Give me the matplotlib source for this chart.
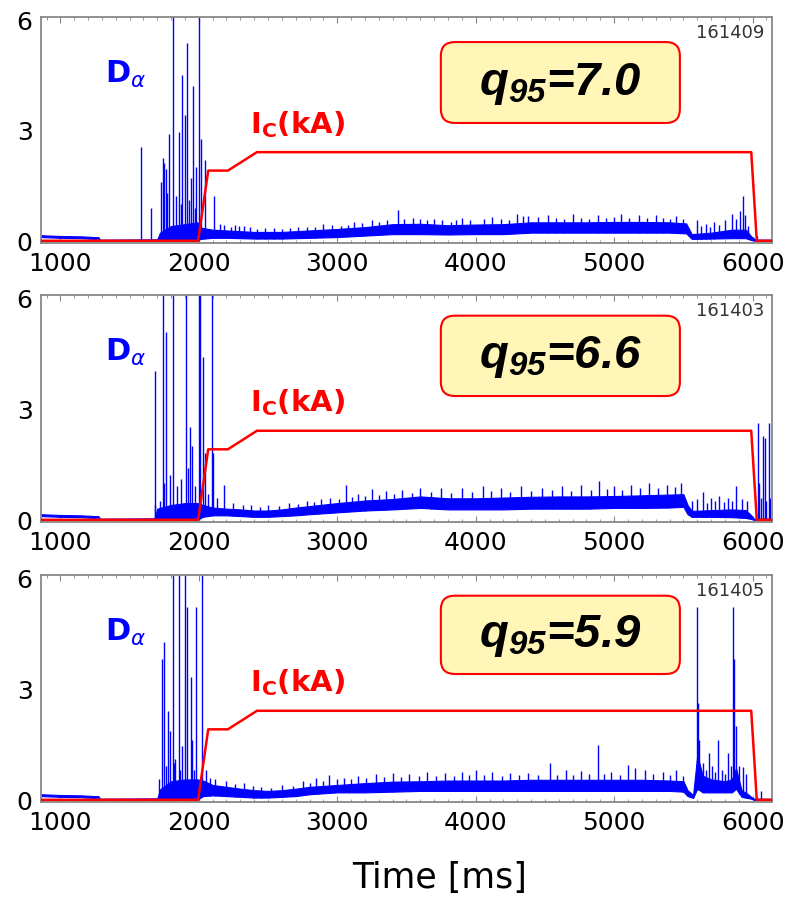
import numpy as np
import matplotlib
matplotlib.use('Agg')
import matplotlib.pyplot as plt
from matplotlib.patches import FancyBboxPatch
from matplotlib.ticker import MultipleLocator

# shots, top to bottom
shots = ['161409', '161403', '161405']
q95_labels = ['7.0', '6.6', '5.9']

# coil current I_C (kA), same waveform on every shot
ic_t = [860, 1995, 2068, 2210, 2420, 5990, 6030, 6140]
ic_v = [0.0, 0.0, 1.9, 1.9, 2.4, 2.4, 0.0, 0.0]

# D-alpha: lower/upper envelope of the dense trace, plus individual spikes
band_t_409 = [860, 1000, 1150, 1250, 1275, 1285, 1700, 1720, 1800, 1900, 1990, 2010, 2100, 2200, 2400,
              2600, 2800, 3000, 3200, 3400, 3600, 3800, 4000, 4200, 4400, 4600, 4800, 5000, 5200, 5400,
              5520, 5560, 5700, 5850, 5950, 5990, 6020, 6140]
band_lo_409 = [0.10, 0.08, 0.07, 0.05, 0.06, 0.00, 0.00, 0.00, 0.00, 0.00, 0.00, 0.05, 0.08, 0.08, 0.06,
               0.06, 0.08, 0.10, 0.14, 0.18, 0.18, 0.17, 0.18, 0.18, 0.22, 0.22, 0.22, 0.22, 0.22, 0.22,
               0.20, 0.05, 0.06, 0.07, 0.07, 0.02, 0.00, 0.00]
band_hi_409 = [0.15, 0.13, 0.12, 0.10, 0.10, 0.03, 0.04, 0.22, 0.40, 0.45, 0.50, 0.36, 0.30, 0.28, 0.24,
               0.24, 0.28, 0.32, 0.37, 0.45, 0.46, 0.42, 0.44, 0.45, 0.50, 0.50, 0.50, 0.51, 0.51, 0.50,
               0.47, 0.18, 0.22, 0.30, 0.30, 0.12, 0.03, 0.03]
spike_t_409 = [1586, 1658, 1730, 1742, 1752, 1762, 1772, 1788, 1814, 1835, 1855, 1870, 1880, 1899, 1916,
               1930, 1942, 1961, 1975, 1983, 2002, 2019, 2048, 2108,
               2150, 2180, 2230, 2260, 2290, 2330, 2370, 2420, 2480, 2540, 2600, 2660, 2720, 2780, 2840,
               2900, 2960, 3030, 3080, 3120, 3180, 3250, 3300, 3360, 3440, 3480, 3550, 3600, 3650, 3700,
               3760, 3820, 3860, 3900, 3960, 4060, 4120, 4180, 4240, 4300, 4340, 4380, 4450, 4520, 4580,
               4640, 4700, 4760, 4820, 4880, 4940, 5000, 5050, 5110, 5180, 5240, 5300, 5350, 5400, 5450,
               5500, 5600, 5630, 5660, 5690, 5720, 5760, 5800, 5850, 5880, 5910, 5928, 5945, 5970, 6030]
spike_h_409 = [2.55, 0.90, 1.60, 2.25, 2.10, 1.95, 1.30, 2.90, 6.50, 1.20, 2.95, 1.00, 4.50, 3.40, 5.35,
               1.10, 1.70, 4.20, 0.90, 2.00, 6.50, 2.75, 2.20, 1.20,
               0.45, 0.42, 0.38, 0.42, 0.40, 0.40, 0.36, 0.33, 0.35, 0.34, 0.33, 0.35, 0.38, 0.38, 0.36,
               0.45, 0.42, 0.40, 0.44, 0.50, 0.48, 0.55, 0.52, 0.56, 0.82, 0.58, 0.62, 0.60, 0.55, 0.60,
               0.55, 0.52, 0.56, 0.62, 0.55, 0.58, 0.65, 0.60, 0.56, 0.72, 0.66, 0.68, 0.64, 0.70, 0.62,
               0.60, 0.72, 0.63, 0.60, 0.70, 0.62, 0.64, 0.72, 0.62, 0.70, 0.63, 0.70, 0.62, 0.60, 0.68,
               0.58, 0.55, 0.40, 0.45, 0.38, 0.50, 0.42, 0.55, 0.72, 0.60, 0.80, 1.20, 0.70, 0.40, 0.12]

band_t_403 = [860, 1000, 1150, 1250, 1275, 1285, 1680, 1700, 1800, 1900, 1990, 2030, 2100, 2200, 2300,
              2400, 2500, 2600, 2700, 2800, 3000, 3200, 3400, 3600, 3800, 4000, 4200, 4400, 4600, 4800,
              5000, 5200, 5400, 5500, 5530, 5560, 5700, 5850, 5950, 5990, 6010, 6140]
band_lo_403 = [0.10, 0.08, 0.07, 0.05, 0.06, 0.00, 0.00, 0.00, 0.00, 0.00, 0.00, 0.08, 0.12, 0.12, 0.10,
               0.08, 0.08, 0.10, 0.12, 0.15, 0.20, 0.25, 0.28, 0.32, 0.28, 0.28, 0.28, 0.30, 0.30, 0.30,
               0.32, 0.32, 0.33, 0.35, 0.15, 0.08, 0.08, 0.07, 0.05, 0.02, 0.00, 0.00]
band_hi_403 = [0.15, 0.13, 0.12, 0.10, 0.10, 0.03, 0.04, 0.30, 0.40, 0.45, 0.45, 0.40, 0.33, 0.30, 0.28,
               0.25, 0.25, 0.28, 0.33, 0.37, 0.45, 0.52, 0.56, 0.63, 0.58, 0.58, 0.60, 0.62, 0.63, 0.63,
               0.64, 0.66, 0.68, 0.69, 0.40, 0.24, 0.26, 0.28, 0.26, 0.12, 0.03, 0.03]
spike_t_403 = [1680, 1687, 1722, 1740, 1752, 1764, 1790, 1814, 1840, 1870, 1904, 1920, 1933, 1952, 1970,
               2000, 2012, 2031, 2048, 2070, 2092, 2101, 2130, 2181,
               2250, 2320, 2380, 2440, 2500, 2580, 2650, 2720, 2780, 2830, 2880, 2950, 3010, 3060, 3110,
               3150, 3200, 3253, 3300, 3350, 3410, 3470, 3540, 3600, 3680, 3750, 3820, 3900, 3970, 4050,
               4110, 4180, 4250, 4330, 4400, 4480, 4550, 4620, 4690, 4760, 4830, 4894, 4950, 5000, 5060,
               5120, 5190, 5250, 5320, 5380, 5440, 5483, 5560, 5600, 5640, 5670, 5700, 5730, 5760, 5790,
               5820, 5850, 5880, 5920, 5960,
               6036, 6046, 6060, 6072, 6089, 6100, 6115, 6125]
spike_h_403 = [0.40, 4.00, 0.50, 6.50, 1.00, 5.05, 1.20, 6.50, 0.90, 1.10, 6.50, 1.40, 2.50, 2.00, 0.90,
               6.50, 6.50, 4.40, 1.80, 0.70, 6.50, 1.80, 0.60, 0.95,
               0.45, 0.40, 0.40, 0.35, 0.40, 0.38, 0.45, 0.42, 0.50, 0.48, 0.55, 0.60, 0.55, 0.95, 0.62,
               0.70, 0.65, 0.82, 0.68, 0.78, 0.70, 0.80, 0.72, 0.85, 0.75, 0.85, 0.72, 0.85, 0.75, 0.90,
               0.78, 0.85, 0.76, 0.90, 0.78, 0.85, 0.80, 0.90, 0.78, 0.95, 0.80, 1.05, 0.82, 0.90, 0.80,
               0.95, 0.85, 1.00, 0.85, 0.95, 0.88, 1.00, 0.50, 0.55, 0.75, 0.45, 0.60, 0.50, 0.65, 0.48,
               0.60, 0.50, 0.90, 0.55, 0.50,
               2.60, 1.00, 0.60, 2.25, 2.20, 0.50, 2.60, 0.60]

band_t_405 = [860, 1000, 1150, 1250, 1275, 1285, 1700, 1720, 1800, 1900, 1990, 2030, 2100, 2200, 2300,
              2400, 2500, 2600, 2700, 2800, 3000, 3200, 3400, 3600, 3800, 4000, 4200, 4400, 4600, 4800,
              5000, 5200, 5400, 5500, 5530, 5570, 5600, 5640, 5700, 5800, 5850, 5880, 5920, 5960, 5990,
              6010, 6140]
band_lo_405 = [0.10, 0.08, 0.07, 0.05, 0.06, 0.00, 0.00, 0.00, 0.00, 0.00, 0.00, 0.10, 0.12, 0.10, 0.08,
               0.06, 0.06, 0.08, 0.10, 0.15, 0.20, 0.20, 0.22, 0.24, 0.24, 0.24, 0.24, 0.24, 0.24, 0.24,
               0.24, 0.24, 0.24, 0.22, 0.10, 0.05, 0.30, 0.20, 0.20, 0.20, 0.20, 0.30, 0.08, 0.05, 0.03,
               0.00, 0.00]
band_hi_405 = [0.15, 0.13, 0.12, 0.10, 0.10, 0.03, 0.04, 0.28, 0.50, 0.55, 0.55, 0.52, 0.40, 0.35, 0.30,
               0.26, 0.24, 0.26, 0.30, 0.35, 0.40, 0.45, 0.49, 0.50, 0.52, 0.52, 0.52, 0.54, 0.54, 0.54,
               0.54, 0.54, 0.52, 0.50, 0.26, 0.13, 1.20, 0.65, 0.55, 0.50, 0.55, 0.85, 0.26, 0.17, 0.08,
               0.03, 0.03]
spike_t_405 = [1711, 1735, 1749, 1760, 1776, 1795, 1814, 1822, 1831, 1855, 1866, 1880, 1899, 1916, 1940,
               1952, 1965, 1983, 2024, 2053, 2080, 2120,
               2200, 2260, 2330, 2390, 2450, 2520, 2600, 2680, 2750, 2800, 2850, 2900, 2940, 3000, 3050,
               3100, 3150, 3210, 3280, 3340, 3400, 3460, 3520, 3590, 3650, 3710, 3780, 3840, 3900, 3950,
               4000, 4060, 4120, 4190, 4250, 4310, 4380, 4450, 4534, 4590, 4650, 4700, 4760, 4820, 4882,
               4930, 4980, 5040, 5099, 5150, 5220, 5280, 5350, 5400, 5450, 5500,
               5596, 5605, 5615, 5640, 5665, 5688, 5710, 5730, 5748, 5780, 5800, 5820, 5845, 5861, 5868,
               5880, 5904, 5930, 5952, 6060]
spike_h_405 = [0.55, 3.80, 4.25, 0.90, 2.40, 1.85, 6.50, 1.00, 1.10, 6.50, 0.80, 1.45, 6.50, 5.20, 3.30,
               1.60, 0.80, 5.20, 6.50, 0.80, 0.60, 0.55,
               0.50, 0.42, 0.45, 0.36, 0.35, 0.33, 0.40, 0.38, 0.50, 0.45, 0.60, 0.50, 0.68, 0.55, 0.60,
               0.55, 0.65, 0.58, 0.70, 0.62, 0.72, 0.62, 0.70, 0.64, 0.75, 0.65, 0.72, 0.64, 0.75, 0.66,
               0.80, 0.66, 0.75, 0.65, 0.72, 0.66, 0.72, 0.66, 0.98, 0.68, 0.80, 0.68, 0.78, 0.70, 1.48,
               0.70, 0.75, 0.68, 0.93, 0.85, 0.80, 0.70, 0.75, 0.68, 0.80, 0.65,
               5.20, 2.60, 1.60, 1.00, 0.80, 1.25, 0.90, 0.75, 1.60, 0.80, 0.70, 1.25, 0.90, 5.20, 3.80,
               2.00, 0.90, 0.88, 0.70, 0.25]

bands = [(band_t_409, band_lo_409, band_hi_409),
         (band_t_403, band_lo_403, band_hi_403),
         (band_t_405, band_lo_405, band_hi_405)]
spikes = [(spike_t_409, spike_h_409),
          (spike_t_403, spike_h_403),
          (spike_t_405, spike_h_405)]

BLUE = '#0000ff'
RED = '#ff0000'
FRAME = '#888888'

plt.rcParams['font.family'] = 'DejaVu Sans'
plt.rcParams['mathtext.fontset'] = 'custom'
plt.rcParams['mathtext.rm'] = 'DejaVu Sans'
plt.rcParams['mathtext.it'] = 'DejaVu Sans:italic'
plt.rcParams['mathtext.bf'] = 'DejaVu Sans:bold'
plt.rcParams['mathtext.sf'] = 'Liberation Sans:bold:italic'

fig = plt.figure(figsize=(7.94, 9.03), dpi=100)
rects = [[0.0516, 0.7298, 0.9207, 0.2503],
         [0.0516, 0.4208, 0.9207, 0.2514],
         [0.0516, 0.1107, 0.9207, 0.2514]]
box_y = [(0.531, 0.889), (0.555, 0.909), (0.564, 0.909)]

for i, rect in enumerate(rects):
    ax = fig.add_axes(rect)
    bt, blo, bhi = bands[i]
    st, sh = spikes[i]

    # D-alpha trace
    ax.fill_between(bt, blo, bhi, color=BLUE, lw=0.8, zorder=2)
    base = np.interp(st, bt, blo)
    ax.vlines(st, base, sh, color=BLUE, lw=1.0, zorder=2)

    # coil current
    ax.plot(ic_t, ic_v, color=RED, lw=1.8, zorder=3)

    ax.set_xlim(860, 6140)
    ax.set_ylim(-0.06, 6.06)
    ax.set_xticks(range(1000, 6001, 1000))
    ax.xaxis.set_minor_locator(MultipleLocator(100))
    ax.set_yticks([0, 3, 6])
    ax.set_yticks([3], minor=True)
    ax.tick_params(axis='x', which='both', direction='in', top=True, bottom=True,
                   color=FRAME, labelsize=18, pad=6)
    ax.tick_params(axis='x', which='major', length=4)
    ax.tick_params(axis='x', which='minor', length=2)
    ax.tick_params(axis='y', which='major', length=0, labelsize=18, pad=6)
    ax.tick_params(axis='y', which='minor', direction='in', left=True, right=True,
                   length=10, width=1.2, color=FRAME)
    for s in ax.spines.values():
        s.set_color(FRAME)
        s.set_linewidth(1.3)

    # trace labels
    ax.text(1322, 4.3, r'D$_\alpha$', color=BLUE, fontsize=22, fontweight='bold',
            ha='left', va='baseline', zorder=4)
    ax.text(2370, 2.95, r'I$_\mathbf{C}$(kA)', color=RED, fontsize=21, fontweight='bold',
            ha='left', va='baseline', zorder=4)

    ax.text(0.99, 0.935, shots[i], transform=ax.transAxes, fontsize=13,
            color='#333333', ha='right', va='center')

    # q95 box
    y0, y1 = box_y[i]
    box = FancyBboxPatch((0.547, y0), 0.327, y1 - y0, transform=ax.transAxes,
                         boxstyle='round,pad=0,rounding_size=0.019', mutation_aspect=3.23,
                         facecolor='#fff6b8', edgecolor=RED, lw=1.5, zorder=5)
    ax.add_patch(box)
    ax.text(0.547 + 0.327 / 2, (y0 + y1) / 2, r'q$_{\mathsf{95}}$=' + q95_labels[i],
            transform=ax.transAxes, fontsize=34, fontfamily='Liberation Sans',
            fontweight='bold', fontstyle='italic', ha='center', va='center', zorder=6)

fig.text(0.554, 0.028, 'Time [ms]', fontsize=25, ha='center', va='center')

fig.savefig('out.png', dpi=100)
